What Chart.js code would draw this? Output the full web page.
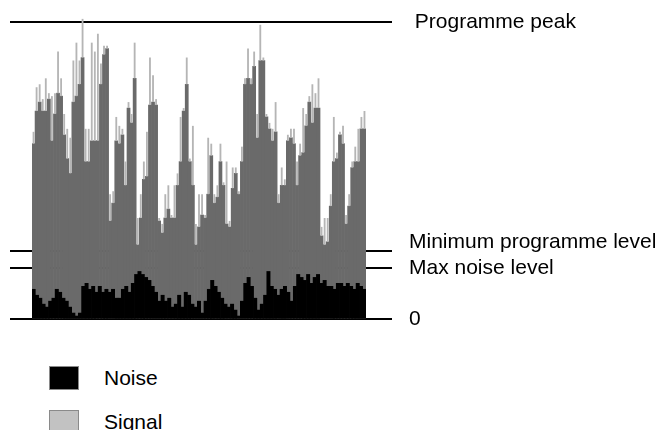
<!DOCTYPE html>
<html>
<head>
<meta charset="utf-8">
<script src="https://cdn.jsdelivr.net/npm/chart.js@4.4.1/dist/chart.umd.min.js"></script>
<style>
  body { margin: 0; background: #fff; font-family: "Liberation Sans", Arial, sans-serif; }
  #wrap { position: relative; width: 661px; height: 430px; }
  #legend { position: absolute; left: 49px; top: 366px; }
  .item { display: flex; align-items: center; height: 24px; margin-bottom: 20px; font-size: 21px; color: #000; }
  .box { width: 28px; height: 22px; border: 1px solid #8a8a8a; margin-right: 25px; }
</style>
</head>
<body>
<div id="wrap">
  <canvas id="levels" width="661" height="345"></canvas>
  <div id="legend">
    <div class="item"><span class="box" style="background:#000"></span>Noise</div>
    <div class="item"><span class="box" style="background:#c2c2c2"></span>Signal</div>
  </div>
</div>
<script>
// programme level (rms part of each bar), peak = 100
const signal = [
  59, 70, 73, 70, 70, 74, 60, 69, 76, 75,
  62, 54, 49, 73, 75, 79, 88, 53, 53, 60,
  60, 60, 79, 89, 91, 33, 39, 60, 59, 62,
  45, 71, 66, 81, 25, 34, 47, 48, 72, 73,
  72, 33, 29, 34, 37, 34, 34, 45, 53, 70,
  79, 53, 45, 25, 31, 35, 34, 42, 55, 39,
  41, 53, 45, 32, 31, 44, 49, 42, 53, 79,
  81, 79, 85, 61, 87, 87, 68, 64, 60, 63,
  39, 45, 45, 60, 61, 59, 45, 55, 56, 65,
  73, 66, 71, 71, 28, 25, 26, 38, 53, 54,
  62, 59, 32, 38, 51, 53, 53, 64, 64
];

// short peaks sitting on top of each bar
const peaks = [
  63, 78, 79, 74, 81, 76, 75, 76, 90, 81,
  69, 64, 61, 87, 93, 87, 101, 64, 64, 93,
  90, 96, 86, 92, 92, 42, 43, 68, 65, 64,
  53, 73, 69, 93, 34, 42, 53, 63, 88, 82,
  74, 34, 32, 42, 45, 35, 45, 49, 68, 71,
  88, 54, 65, 32, 42, 42, 35, 61, 59, 42,
  45, 59, 46, 53, 33, 51, 51, 43, 58, 81,
  91, 81, 90, 69, 99, 88, 69, 66, 64, 73,
  42, 51, 47, 62, 64, 64, 53, 59, 71, 69,
  75, 79, 76, 81, 31, 34, 34, 42, 68, 56,
  63, 65, 35, 42, 53, 58, 64, 68, 70
];

const noise = [
  10, 8, 7, 5, 4, 6, 7, 10, 9, 7,
  6, 4, 2, 1, 2, 11, 12, 10, 11, 9,
  11, 9, 10, 9, 10, 7, 7, 10, 11, 9,
  12, 15, 16, 15, 14, 13, 11, 9, 6, 8,
  6, 7, 4, 5, 8, 4, 9, 8, 5, 4,
  6, 2, 6, 10, 13, 11, 9, 7, 5, 4,
  5, 3, 1, 6, 12, 14, 11, 7, 3, 5,
  8, 16, 11, 10, 8, 10, 11, 9, 6, 11,
  15, 14, 13, 15, 12, 14, 15, 12, 13, 11,
  11, 10, 12, 12, 11, 12, 11, 10, 12, 11,
  10
];

// reference levels and their names
const levelValues = [0, 17.2, 23, 100];
const levelLabels = ["0", "Max noise level", ["Minimum programme level", ""], " Programme peak"];

const signalLabels = signal.map((v, i) => i + 1);
const noiseLabels = noise.map((v, i) => i + 1);

const levelTicks = (scale) => {
  scale.ticks = levelValues.map((v) => ({ value: v }));
};

const config = {
  type: "bar",
  data: {
    labels: signalLabels,
    datasets: [
      {
        label: "Noise",
        data: noise,
        xAxisID: "x2",
        backgroundColor: "#000",
        grouped: false,
        order: 1,
      },
      {
        label: "Peak",
        data: signal.map((v, i) => [v, peaks[i]]),
        backgroundColor: "#b5b5b5",
        grouped: false,
        barPercentage: 0.6,
        order: 2,
      },
      {
        label: "Signal",
        data: signal,
        backgroundColor: "#6a6a6a",
        grouped: false,
        order: 3,
      },
    ],
  },
  options: {
    responsive: false,
    animation: false,
    layout: { padding: { top: 7, bottom: 26, left: 10, right: 0 } },
    datasets: {
      bar: { barPercentage: 1, categoryPercentage: 1, borderWidth: 0 },
    },
    plugins: {
      legend: { display: false },
      tooltip: { enabled: false },
    },
    scales: {
      x: { display: false, offset: true },
      x2: { type: "category", labels: noiseLabels, display: false, offset: true },
      y: {
        position: "left",
        min: 0,
        max: 105,
        z: 1,
        afterBuildTicks: levelTicks,
        afterFit: (s) => {
          s.width = 22;
          s.paddingTop = 0;
          s.paddingBottom = 0;
        },
        ticks: { display: false },
        border: { display: false },
        grid: { color: "#000", lineWidth: 2, tickLength: 22 },
      },
      yRight: {
        position: "right",
        min: 0,
        max: 105,
        z: 1,
        afterBuildTicks: levelTicks,
        afterFit: (s) => {
          s.width = 295;
          s.paddingTop = 0;
          s.paddingBottom = 0;
        },
        ticks: {
          padding: 17,
          color: "#000",
          font: { family: "'Liberation Sans', Arial, sans-serif", size: 21, lineHeight: 0.8 },
          callback: (value) => levelLabels[levelValues.indexOf(value)],
        },
        border: { display: false },
        grid: { color: "#000", lineWidth: 2, tickLength: 26, drawOnChartArea: false },
      },
    },
  },
};

const levelsChart = new Chart(document.getElementById("levels"), config);
</script>
</body>
</html>
